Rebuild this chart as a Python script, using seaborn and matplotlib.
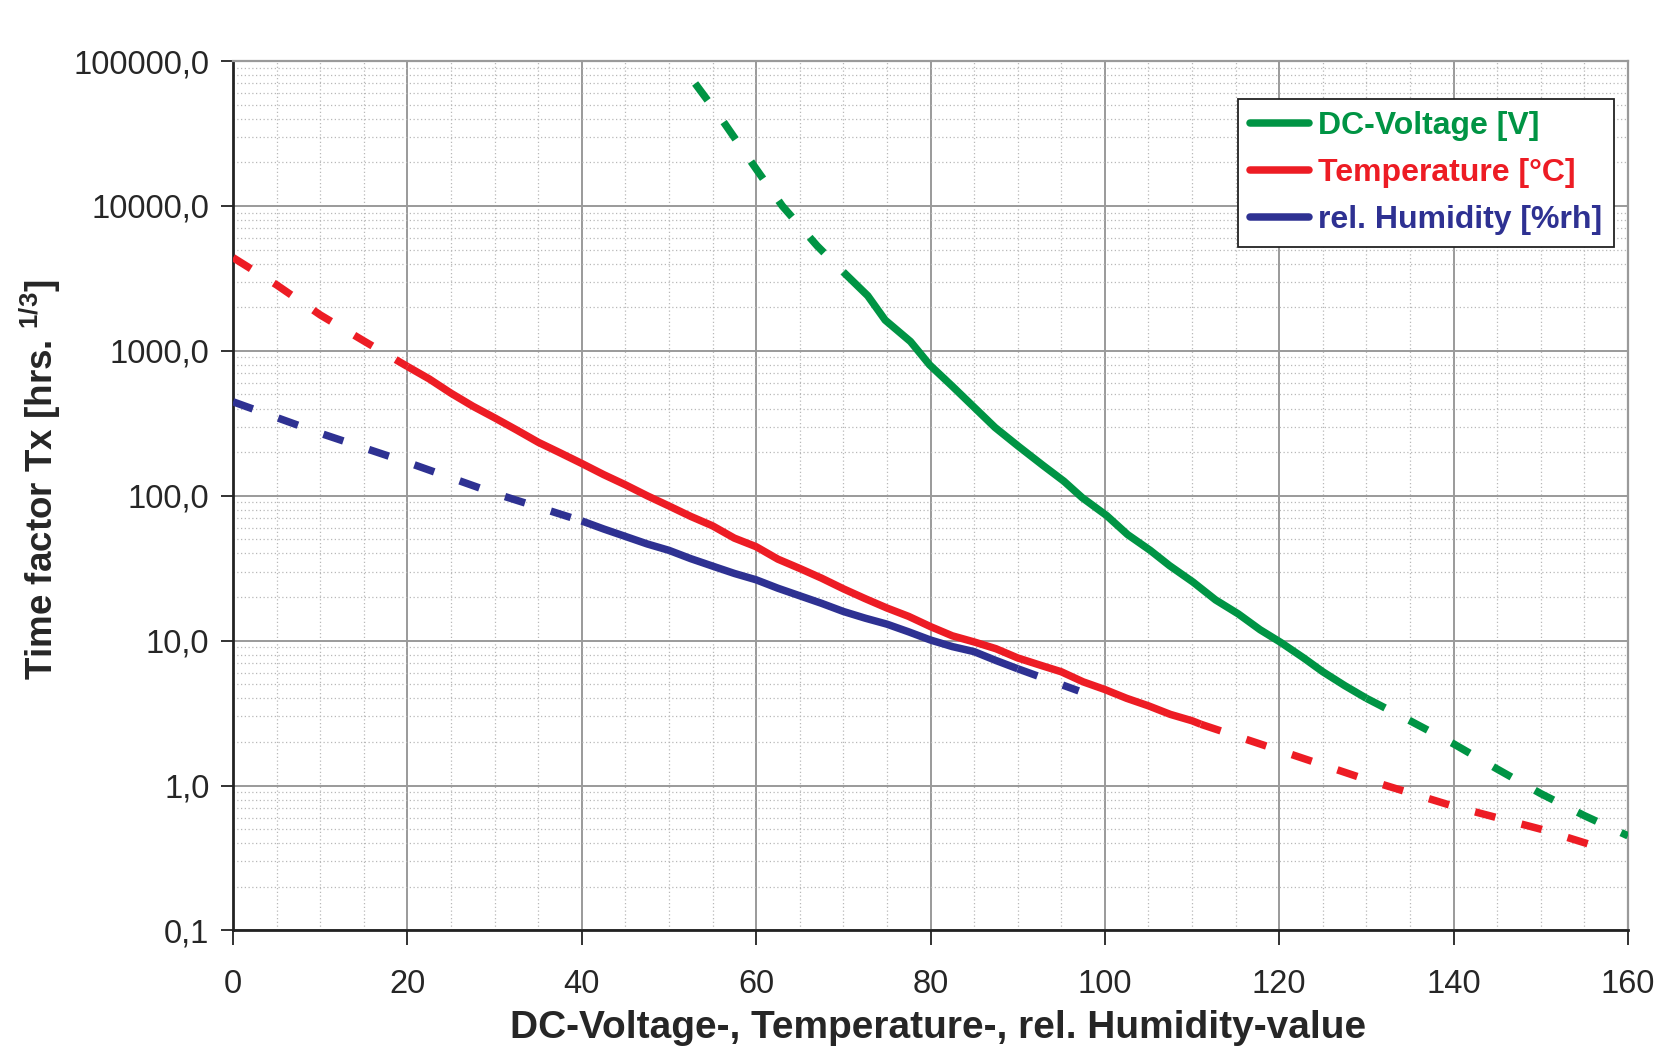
import numpy as np
import pandas as pd
import matplotlib
matplotlib.use("Agg")
import matplotlib.pyplot as plt
import seaborn as sns
from matplotlib.ticker import MultipleLocator, LogLocator, FixedLocator, FixedFormatter, NullFormatter
from matplotlib.lines import Line2D

# ---------------- data ----------------
volt_dash1_x = [53, 56, 60, 63, 67, 70]
volt_dash1_y = [70000, 40000, 18000, 10000, 5300, 3500]
volt_solid_x = [70, 72.8, 74.8, 77.7, 79.9, 82.5, 85, 87.4, 90.1, 92.9, 95.3, 97.4, 100.2,
                102.6, 105.2, 107.4, 110.1, 112.7, 115.3, 117.8, 120.2, 122.8, 125, 127.5, 130]
volt_solid_y = [3500, 2400, 1630, 1160, 800, 570, 408, 296, 219, 162, 126, 97, 73,
                54, 42, 33, 25.4, 19.1, 15.3, 11.9, 9.7, 7.6, 6.1, 4.9, 4.0]
volt_dash2_x = [130, 135, 140, 145, 150, 155, 160]
volt_dash2_y = [4.0, 2.8, 1.94, 1.3, 0.88, 0.62, 0.45]

temp_dash1_x = [0, 5, 10, 15, 20]
temp_dash1_y = [4400, 2850, 1770, 1170, 780]
temp_solid_x = [20, 22.5, 25, 27.5, 30, 32.5, 35, 37.5, 40, 42.5, 45, 47.5, 50, 52.5, 55,
                57.5, 60, 62.5, 65, 67.5, 70, 72.5, 75, 77.5, 80, 82.5, 85, 87.5, 90, 92.5,
                95, 97.5, 100, 102.5, 105, 107.5, 110, 111]
temp_solid_y = [780, 640, 510, 415, 345, 285, 234, 198, 167, 140, 119, 100, 85, 72, 62,
                51, 44.5, 36.5, 31.5, 27, 22.8, 19.5, 16.8, 14.7, 12.5, 10.8, 9.8, 8.8, 7.6, 6.8,
                6.1, 5.2, 4.6, 4.0, 3.55, 3.1, 2.8, 2.65]
temp_dash2_x = [111, 120, 130, 140, 150, 157]
temp_dash2_y = [2.65, 1.75, 1.1, 0.72, 0.5, 0.37]

hum_dash1_x = [0, 10, 20, 30, 40]
hum_dash1_y = [445, 270, 170, 104, 67]
hum_solid_x = [40, 42.5, 45, 47.5, 50, 52.5, 55, 57.5, 60, 62.5, 65, 67.5, 70, 72.5, 75,
               77.5, 80, 82.5, 85, 87.5, 90]
hum_solid_y = [67, 59, 52.4, 46.5, 42, 36.8, 32.7, 29.1, 26.3, 23, 20.4, 18.1, 15.9, 14.3, 13,
               11.5, 10.1, 9.1, 8.4, 7.3, 6.4]
hum_dash2_x = [90, 97]
hum_dash2_y = [6.4, 4.5]

series_labels = ["DC-Voltage [V]", "Temperature [°C]", "rel. Humidity [%rh]"]
y_ticks = [0.1, 1, 10, 100, 1000, 10000, 100000]
y_tick_labels = ["0,1", "1,0", "10,0", "100,0", "1000,0", "10000,0", "100000,0"]
x_ticks = [0, 20, 40, 60, 80, 100, 120, 140, 160]

# ---------------- style ----------------
sns.set_style("white")
plt.rcParams["font.family"] = ["Liberation Sans", "DejaVu Sans"]
plt.rcParams["mathtext.fontset"] = "custom"
plt.rcParams["mathtext.rm"] = "Liberation Sans:bold"
plt.rcParams["mathtext.it"] = "Liberation Sans:bold"
plt.rcParams["mathtext.bf"] = "Liberation Sans:bold"

GREEN = "#009444"
RED = "#ED1C24"
BLUE = "#2E3192"
LW = 5.4
DASH = (0, (2.8, 3.6))

fig = plt.figure(figsize=(16.6, 10.47), dpi=100)
ax = fig.add_axes([0.1404, 0.1113, 0.8403, 0.8304])

def draw(xs, ys, color, dashed):
    df = pd.DataFrame({"x": xs, "y": ys})
    kw = dict(linestyle=DASH) if dashed else dict(linestyle="-")
    sns.lineplot(data=df, x="x", y="y", ax=ax, color=color, lw=LW, estimator=None,
                 sort=False, solid_capstyle="butt", dash_capstyle="butt",
                 solid_joinstyle="round", zorder=5, **kw)

draw(volt_dash1_x, volt_dash1_y, GREEN, True)
draw(volt_solid_x, volt_solid_y, GREEN, False)
draw(volt_dash2_x, volt_dash2_y, GREEN, True)
draw(temp_dash1_x, temp_dash1_y, RED, True)
draw(temp_solid_x, temp_solid_y, RED, False)
draw(temp_dash2_x, temp_dash2_y, RED, True)
draw(hum_dash1_x, hum_dash1_y, BLUE, True)
draw(hum_solid_x, hum_solid_y, BLUE, False)
draw(hum_dash2_x, hum_dash2_y, BLUE, True)

ax.set_yscale("log")
ax.set_xlim(0, 160)
ax.set_ylim(0.1, 100000)

ax.xaxis.set_major_locator(FixedLocator(x_ticks))
ax.xaxis.set_minor_locator(MultipleLocator(5))
ax.yaxis.set_major_locator(FixedLocator(y_ticks))
ax.yaxis.set_major_formatter(FixedFormatter(y_tick_labels))
ax.yaxis.set_minor_locator(LogLocator(base=10, subs=np.arange(2, 10), numticks=50))
ax.yaxis.set_minor_formatter(NullFormatter())

ax.grid(which="major", color="#9a9a9a", lw=1.4, ls="-", zorder=1)
ax.grid(which="minor", color="#b8b8b8", lw=0.9, ls=(0, (1, 2)), zorder=1)
ax.set_axisbelow(True)

ax.tick_params(axis="both", which="major", direction="out", width=1.3,
               color="#222222", labelsize=23.5, left=True, bottom=True)
ax.tick_params(axis="x", which="major", length=11, pad=17)
ax.tick_params(axis="y", which="major", length=9, pad=8)
ax.tick_params(axis="both", which="minor", length=0)

for s in ["left", "bottom"]:
    ax.spines[s].set_color("#222222")
    ax.spines[s].set_linewidth(2.0)
for s in ["top", "right"]:
    ax.spines[s].set_color("#9a9a9a")
    ax.spines[s].set_linewidth(1.6)

ax.set_xlabel("DC-Voltage-, Temperature-, rel. Humidity-value", fontsize=28,
              fontweight="bold")
ax.xaxis.set_label_coords(0.5054, -0.0914)
ax.set_ylabel("Time factor Tx [hrs. $^{1/3}$]", fontsize=26.5, fontweight="bold")
ax.yaxis.set_label_coords(-0.122, 0.519)

handles = [Line2D([], [], color=c, lw=LW) for c in (GREEN, RED, BLUE)]
leg = ax.legend(handles, series_labels, loc="upper right", bbox_to_anchor=(0.990, 0.9560),
                borderaxespad=0, fancybox=False, framealpha=1, edgecolor="#222222",
                prop={"size": 23, "weight": "bold"}, labelcolor="linecolor",
                handlelength=1.85, handletextpad=0.28, labelspacing=0.53,
                borderpad=0.38)
leg.get_frame().set_linewidth(1.3)
leg.set_zorder(10)

fig.savefig("out.png", dpi=100)
